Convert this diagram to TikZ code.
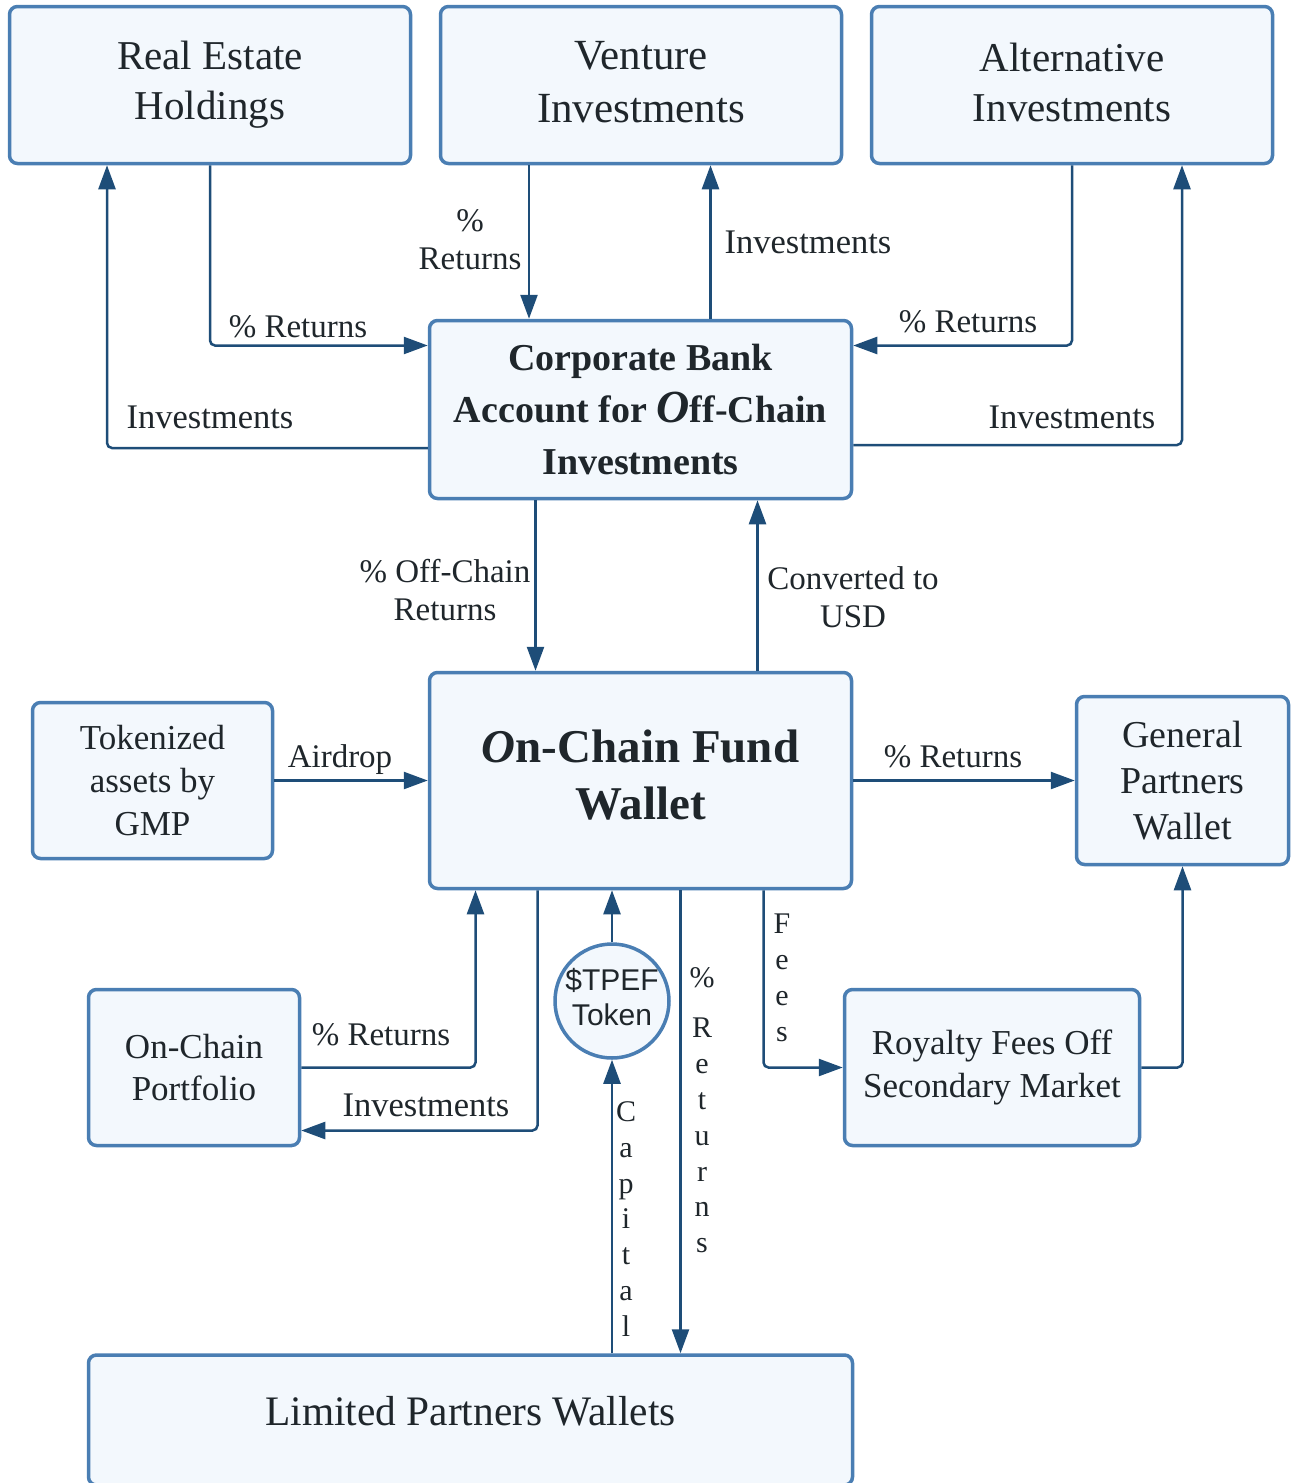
\documentclass[tikz,border=0pt]{standalone}
\usepackage{fontspec}
\setmainfont{Liberation Serif}
\setsansfont{Liberation Sans}
\usetikzlibrary{arrows.meta}
\definecolor{boxfill}{HTML}{F3F8FD}
\definecolor{boxline}{HTML}{4A7EB3}
\definecolor{flowc}{HTML}{1E4D78}
\definecolor{txtc}{HTML}{1F262B}

\begin{document}
\begin{tikzpicture}[x=1pt, y=-1pt,
   box/.style={draw=boxline, fill=boxfill, line width=3.5pt, rounded corners=8pt,
      align=center, text=txtc, inner sep=0pt},
   flow/.style={draw=flowc, line width=2.5pt, rounded corners=5pt,
      -{Triangle[length=24pt,width=17pt]}},
   lbl/.style={text=txtc, align=center, inner sep=0pt, font=\fontsize{33}{38}\selectfont},
   invlbl/.style={lbl, font=\fontsize{34.5}{38}\selectfont},
   vlbl/.style={lbl, font=\fontsize{30}{35.8}\selectfont}]
\useasboundingbox (0,0) rectangle (1294,1483);

\node[box, minimum width=401, minimum height=157, font=\fontsize{41}{50}\selectfont] (rh) at (210,85) {Real Estate\\Holdings};
\node[box, minimum width=401, minimum height=157, text depth=6pt, font=\fontsize{43}{53}\selectfont] (vi) at (641,85) {Venture\\Investments};
\node[box, minimum width=401, minimum height=157, text depth=5pt, font=\fontsize{41}{50}\selectfont] (ai) at (1072,85) {Alternative\\Investments};
\node[box, minimum width=422, minimum height=178, font=\bfseries\fontsize{38}{52}\selectfont] (cb) at (640.5,409.5)
   {Corporate Bank\\Account for {\itshape\fontsize{46}{52}\selectfont O}ff-Chain\\Investments};
\node[box, minimum width=422, minimum height=216, text depth=12pt, font=\bfseries\fontsize{47}{57}\selectfont] (fw) at (640.5,780.5)
   {{\itshape O}n-Chain Fund\\Wallet};
\node[box, minimum width=240, minimum height=156, font=\fontsize{35}{43}\selectfont] (ta) at (152.5,780.5) {Tokenized\\assets by\\GMP};
\node[box, minimum width=212, minimum height=168, font=\fontsize{38}{46}\selectfont] (gp) at (1182.5,780.5) {General\\Partners\\Wallet};
\node[box, minimum width=211, minimum height=156, font=\fontsize{35}{42}\selectfont] (op) at (194,1067.5) {On-Chain\\Portfolio};
\node[box, minimum width=295, minimum height=156, font=\fontsize{35}{43}\selectfont] (rf) at (992,1067.5) {Royalty Fees Off\\Secondary Market};
\node[box, minimum width=764, minimum height=130, text depth=19pt, font=\fontsize{42}{50}\selectfont] (lp) at (470.5,1420)
   {\scalebox{0.985}[1]{Limited Partners Wallets}};
\node[box, circle, minimum size=114, text depth=8pt, font=\sffamily\fontsize{30}{35}\selectfont] (tk) at (612,1001) {\$TPEF\\Token};

\draw[flow] (rh.south) |- ([yshift=64pt]cb.west);
\draw[flow] ([yshift=-38.5pt]cb.west) -| ([xshift=-103pt]rh.south);
\draw[flow] ([xshift=-112pt]vi.south) -- ([xshift=-112pt]vi.south |- cb.north);
\draw[flow] ([xshift=70pt]cb.north) -- ([xshift=70pt]cb.north |- vi.south);
\draw[flow] (ai.south) |- ([yshift=64pt]cb.east);
\draw[flow] ([yshift=-35.5pt]cb.east) -| ([xshift=110pt]ai.south);
\draw[flow] ([xshift=-105pt]cb.south) -- ([xshift=-105pt]cb.south |- fw.north);
\draw[flow] ([xshift=117pt]fw.north) -- ([xshift=117pt]fw.north |- cb.south);
\draw[flow] (ta.east) -- (fw.west);
\draw[flow] (fw.east) -- (gp.west);
\draw[flow] (op.east) -| ([xshift=-165pt]fw.south);
\draw[flow] ([xshift=-103pt]fw.south) |- ([yshift=-63pt]op.east);
\draw[flow] (tk.north) -- (tk.north |- fw.south);
\draw[flow] (tk.south |- lp.north) -- (tk.south);
\draw[flow] ([xshift=40pt]fw.south) -- ([xshift=40pt]fw.south |- lp.north);
\draw[flow] ([xshift=123pt]fw.south) |- (rf.west);
\draw[flow] (rf.east) -| (gp.south);

\node[lbl] (l1) at (298,327) {\% Returns};
\node[invlbl] (l2) at (210,417) {Investments};
\node[lbl] (l3) at (470,240) {\%\\Returns};
\node[invlbl] (l4) at (808,242) {Investments};
\node[lbl] (l5) at (968,322) {\% Returns};
\node[invlbl] (l6) at (1072,417) {Investments};
\node[lbl] (l7) at (445,590) {\% Off-Chain\\Returns};
\node[lbl] (l8) at (853,597) {Converted to\\USD};
\node[lbl] (l9) at (340,760) {Airdrop};
\node[lbl] (l10) at (953,757) {\% Returns};
\node[lbl] (l11) at (381,1035) {\% Returns};
\node[invlbl] (l12) at (426,1105) {Investments};
\node[vlbl] (l13) at (626,1219) {C\\a\\p\\i\\t\\a\\l};
\node[vlbl] (l14) at (702,1110) {\%\\[15pt]R\\e\\t\\u\\r\\n\\s};
\node[vlbl] (l15) at (782,978) {F\\e\\e\\s};
\end{tikzpicture}
\end{document}
